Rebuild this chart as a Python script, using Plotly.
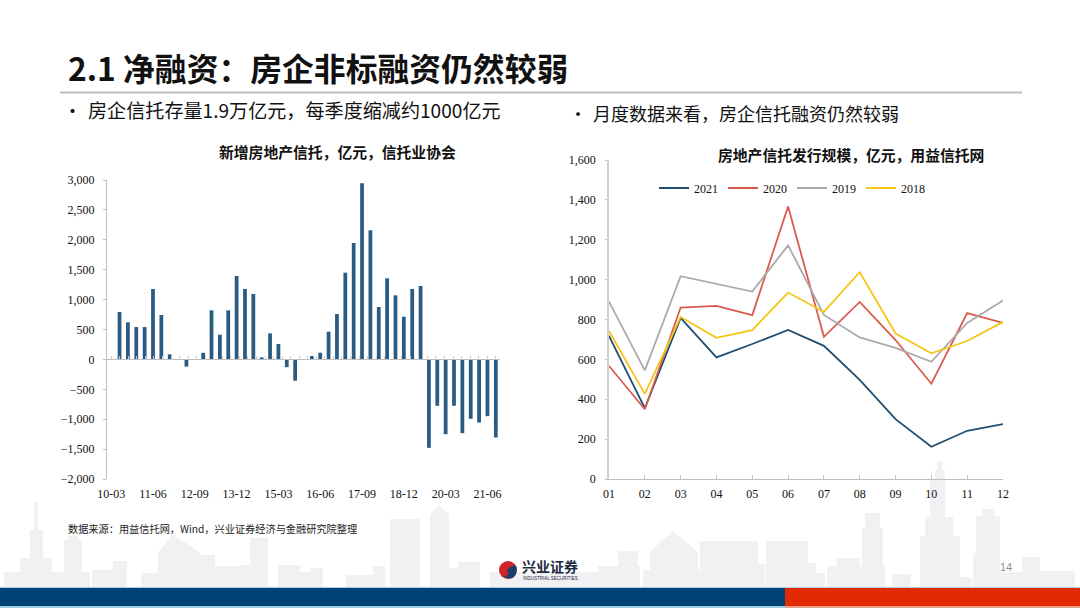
import plotly.graph_objects as go

# quarterly net new property trust, 10-03 has no bar
quarters = ['%02d-%02d' % (y, m) for y in range(10, 22) for m in (3, 6, 9, 12)][:47]
quarter_values = [None, 792, 620, 541, 541, 1177, 742, 84, -10, -120, 5, 110, 820, 413, 820, 1395,
                  1177, 1094, 33, 435, 257, -130, -357, 0, 56, 112, 463, 759, 1450, 1947, 2946,
                  2160, 876, 1356, 1071, 714, 1177, 1228, -1479, -776, -1250, -776, -1233, -993,
                  -1055, -949, -1306]
quarter_ticks = ['10-03', '11-06', '12-09', '13-12', '15-03', '16-06', '17-09', '18-12', '20-03', '21-06']

months = ['01', '02', '03', '04', '05', '06', '07', '08', '09', '10', '11', '12']
issue_2021 = [718, 355, 808, 610, 677, 748, 668, 497, 300, 162, 242, 275]
issue_2020 = [567, 350, 860, 868, 822, 1367, 713, 888, 697, 478, 832, 783]
issue_2019 = [890, 545, 1017, 977, 940, 1172, 823, 710, 658, 588, 783, 895]
issue_2018 = [742, 427, 813, 708, 747, 935, 838, 1037, 730, 630, 692, 788]

W, H = 1080, 608
SANS = 'Noto Sans CJK SC'
SERIF = 'Liberation Serif'
SKY = '#F1F1F3'

# skyline blocks behind the charts: x0, x1, top (pixels, base on the footer)
skyline = [
    (4, 90, 572), (34, 38, 502), (30, 43, 530), (20, 52, 558), (64, 82, 540), (68, 78, 536),
    (92, 127, 570), (113, 127, 561), (141, 158, 573), (158, 200, 552), (200, 215, 555),
    (215, 240, 566), (240, 268, 565), (250, 268, 538), (278, 300, 565), (300, 323, 572),
    (310, 323, 568), (346, 373, 575), (373, 385, 566), (390, 420, 519), (430, 449, 515),
    (449, 480, 568), (458, 480, 562), (490, 598, 572), (598, 640, 566), (618, 638, 551),
    (643, 700, 570), (650, 698, 552), (700, 758, 541), (758, 765, 564), (766, 808, 541), (808, 816, 563),
    (816, 825, 573), (827, 837, 566), (837, 860, 558), (860, 885, 566), (862, 883, 528),
    (865, 880, 513), (892, 911, 574), (920, 960, 536), (925, 953, 517), (930, 945, 480),
    (935, 945, 470), (937, 942, 461), (960, 972, 577), (973, 1000, 553), (976, 1000, 516),
    (982, 995, 509), (1000, 1022, 572), (1022, 1040, 557), (1040, 1075, 571),
]
# pitched roofs: left, peak x, right, eave y, peak y
roofs = [(158, 173, 200, 552, 535), (430, 439, 449, 515, 505), (650, 673, 698, 552, 531)]


def px(x):
    return x / W


def py(y):
    return 1 - y / H


def rect(x0, x1, y0, y1, color, layer='below'):
    return dict(type='rect', xref='paper', yref='paper', x0=px(x0), x1=px(x1), y0=py(y1), y1=py(y0),
                fillcolor=color, line_width=0, layer=layer)


def label(x, y, text, size, color='#111111', font=SANS, anchor='left', bold=False):
    if bold:
        text = '<b>%s</b>' % text
    return dict(xref='paper', yref='paper', x=px(x), y=py(y), text=text, showarrow=False, xanchor=anchor,
                yanchor='middle', font=dict(family=font, size=size, color=color))


shapes = [rect(a, b, t, 588, SKY) for a, b, t in skyline]
for a, p, b, e, t in roofs:
    path = 'M %f %f L %f %f L %f %f Z' % (px(a), py(e), px(p), py(t), px(b), py(e))
    shapes.append(dict(type='path', xref='paper', yref='paper', path=path, fillcolor=SKY, line_width=0, layer='below'))
shapes += [
    rect(60, 1022, 91.5, 93.5, '#BDBDBD'),
    rect(0, 1080, 587, 588, '#A9CFE3'),
    rect(0, 785, 588, 606, '#004274'),
    rect(785, 1080, 588, 606, '#E12A02'),
    rect(0, 785, 606, 608, '#9CCFE0'),
    rect(785, 1080, 606, 608, '#E8A08C'),
    # logo
    dict(type='circle', xref='paper', yref='paper', x0=px(499), x1=px(517), y0=py(579), y1=py(561),
         fillcolor='#D3222A', line_width=0),
    dict(type='path', xref='paper', yref='paper',
         path='M %f %f Q %f %f %f %f Q %f %f %f %f Q %f %f %f %f Z' % (
             px(507), py(570), px(519), py(559), px(516), py(574), px(512), py(582), px(503), py(576),
             px(511), py(576), px(507), py(570)),
         fillcolor='#17406F', line_width=0),
]

annotations = [
    label(66, 67, '2.1 净融资：房企非标融资仍然较弱', 31.8, bold=True),
    label(61, 110, '•', 19),
    label(86, 110, '房企信托存量1.9万亿元，每季度缩减约1000亿元', 19.1),
    label(567, 113, '•', 18),
    label(591, 113, '月度数据来看，房企信托融资仍然较弱', 18),
    label(337, 151.5, '新增房地产信托，亿元，信托业协会', 14.8, anchor='center', bold=True),
    label(851, 154.5, '房地产信托发行规模，亿元，用益信托网', 14.8, anchor='center', bold=True),
    label(66, 528.5, '数据来源：用益信托网，Wind，兴业证券经济与金融研究院整理', 10.2, color='#222222'),
    label(1006, 567, '14', 11, color='#8C8C8C', font='Liberation Sans', anchor='center'),
    label(550, 565.5, '兴业证券', 14, color='#1B2A44', anchor='center', bold=True),
    label(550, 578.5, 'INDUSTRIAL SECURITIES', 4.5, color='#1B2A44', font='Liberation Sans', anchor='center'),
]

fig = go.Figure()
fig.add_trace(go.Bar(x=quarters, y=quarter_values, marker_color='#2A5B83', marker_line_width=0,
                     showlegend=False, xaxis='x', yaxis='y'))
# second x axis carries the tick marks along the zero line
fig.add_trace(go.Scatter(x=quarters, y=[0] * len(quarters), mode='none', showlegend=False, hoverinfo='skip',
                         xaxis='x3', yaxis='y'))
for name, vals, color in [('2021', issue_2021, '#1F4E70'), ('2020', issue_2020, '#D95B4E'),
                          ('2019', issue_2019, '#ABA9A9'), ('2018', issue_2018, '#F5C518')]:
    fig.add_trace(go.Scatter(x=months, y=vals, mode='lines', name=name, line=dict(color=color, width=1.8),
                             xaxis='x2', yaxis='y2'))

axis_font = dict(family=SERIF, size=12, color='#111111')
fig.update_layout(
    width=W, height=H, margin=dict(l=0, r=0, t=0, b=0, autoexpand=False), paper_bgcolor='rgba(0,0,0,0)',
    plot_bgcolor='rgba(0,0,0,0)',
    bargap=0.55, shapes=shapes, annotations=annotations, font=axis_font,
    xaxis=dict(domain=[px(107), px(500)], type='category', categoryorder='array', categoryarray=quarters,
               tickmode='array', tickvals=quarter_ticks, ticks='', showline=False, showgrid=False, tickfont=axis_font,
               anchor='y', ticklabelstandoff=6),
    xaxis3=dict(domain=[px(107), px(500)], type='category', categoryorder='array', categoryarray=quarters,
                overlaying='x', anchor='free', position=py(359), showticklabels=False, showline=True, linecolor='#BFBFBF',
                linewidth=1, ticks='inside', ticklen=3, tickcolor='#CFCFCF', tickson='boundaries', dtick=1, showgrid=False),
    yaxis=dict(domain=[py(479), py(180)], range=[-2000, 3000], dtick=500, tickformat=',', showgrid=False, zeroline=False,
               showline=True, linecolor='#BFBFBF', linewidth=1, ticks='outside', ticklen=3, tickcolor='#BFBFBF',
               tickfont=axis_font, anchor='x', ticklabelstandoff=6),
    xaxis2=dict(domain=[px(609), px(1003)], type='category', range=[0, 11], showgrid=False, showline=True,
                linecolor='#BFBFBF', linewidth=1, ticks='inside', ticklen=4, tickcolor='#BFBFBF', tickfont=axis_font,
                anchor='y2', ticklabelstandoff=4),
    yaxis2=dict(domain=[py(479), py(160)], range=[0, 1600], dtick=200, tickformat=',', showgrid=False, zeroline=False,
                showline=True, linecolor='#CFCFCF', linewidth=1.5, ticks='outside', ticklen=2, tickcolor='#BFBFBF',
                tickfont=axis_font, anchor='x2', ticklabelstandoff=7),
    legend=dict(orientation='h', x=px(654), y=py(188), xanchor='left', yanchor='middle', bgcolor='rgba(0,0,0,0)',
                entrywidth=24, entrywidthmode='pixels', itemwidth=30, font=dict(family=SERIF, size=12, color='#111111')),
)

fig.write_html('out.html', config={'displayModeBar': False},
               post_script="document.body.style.margin='0';document.body.style.overflow='hidden';")
